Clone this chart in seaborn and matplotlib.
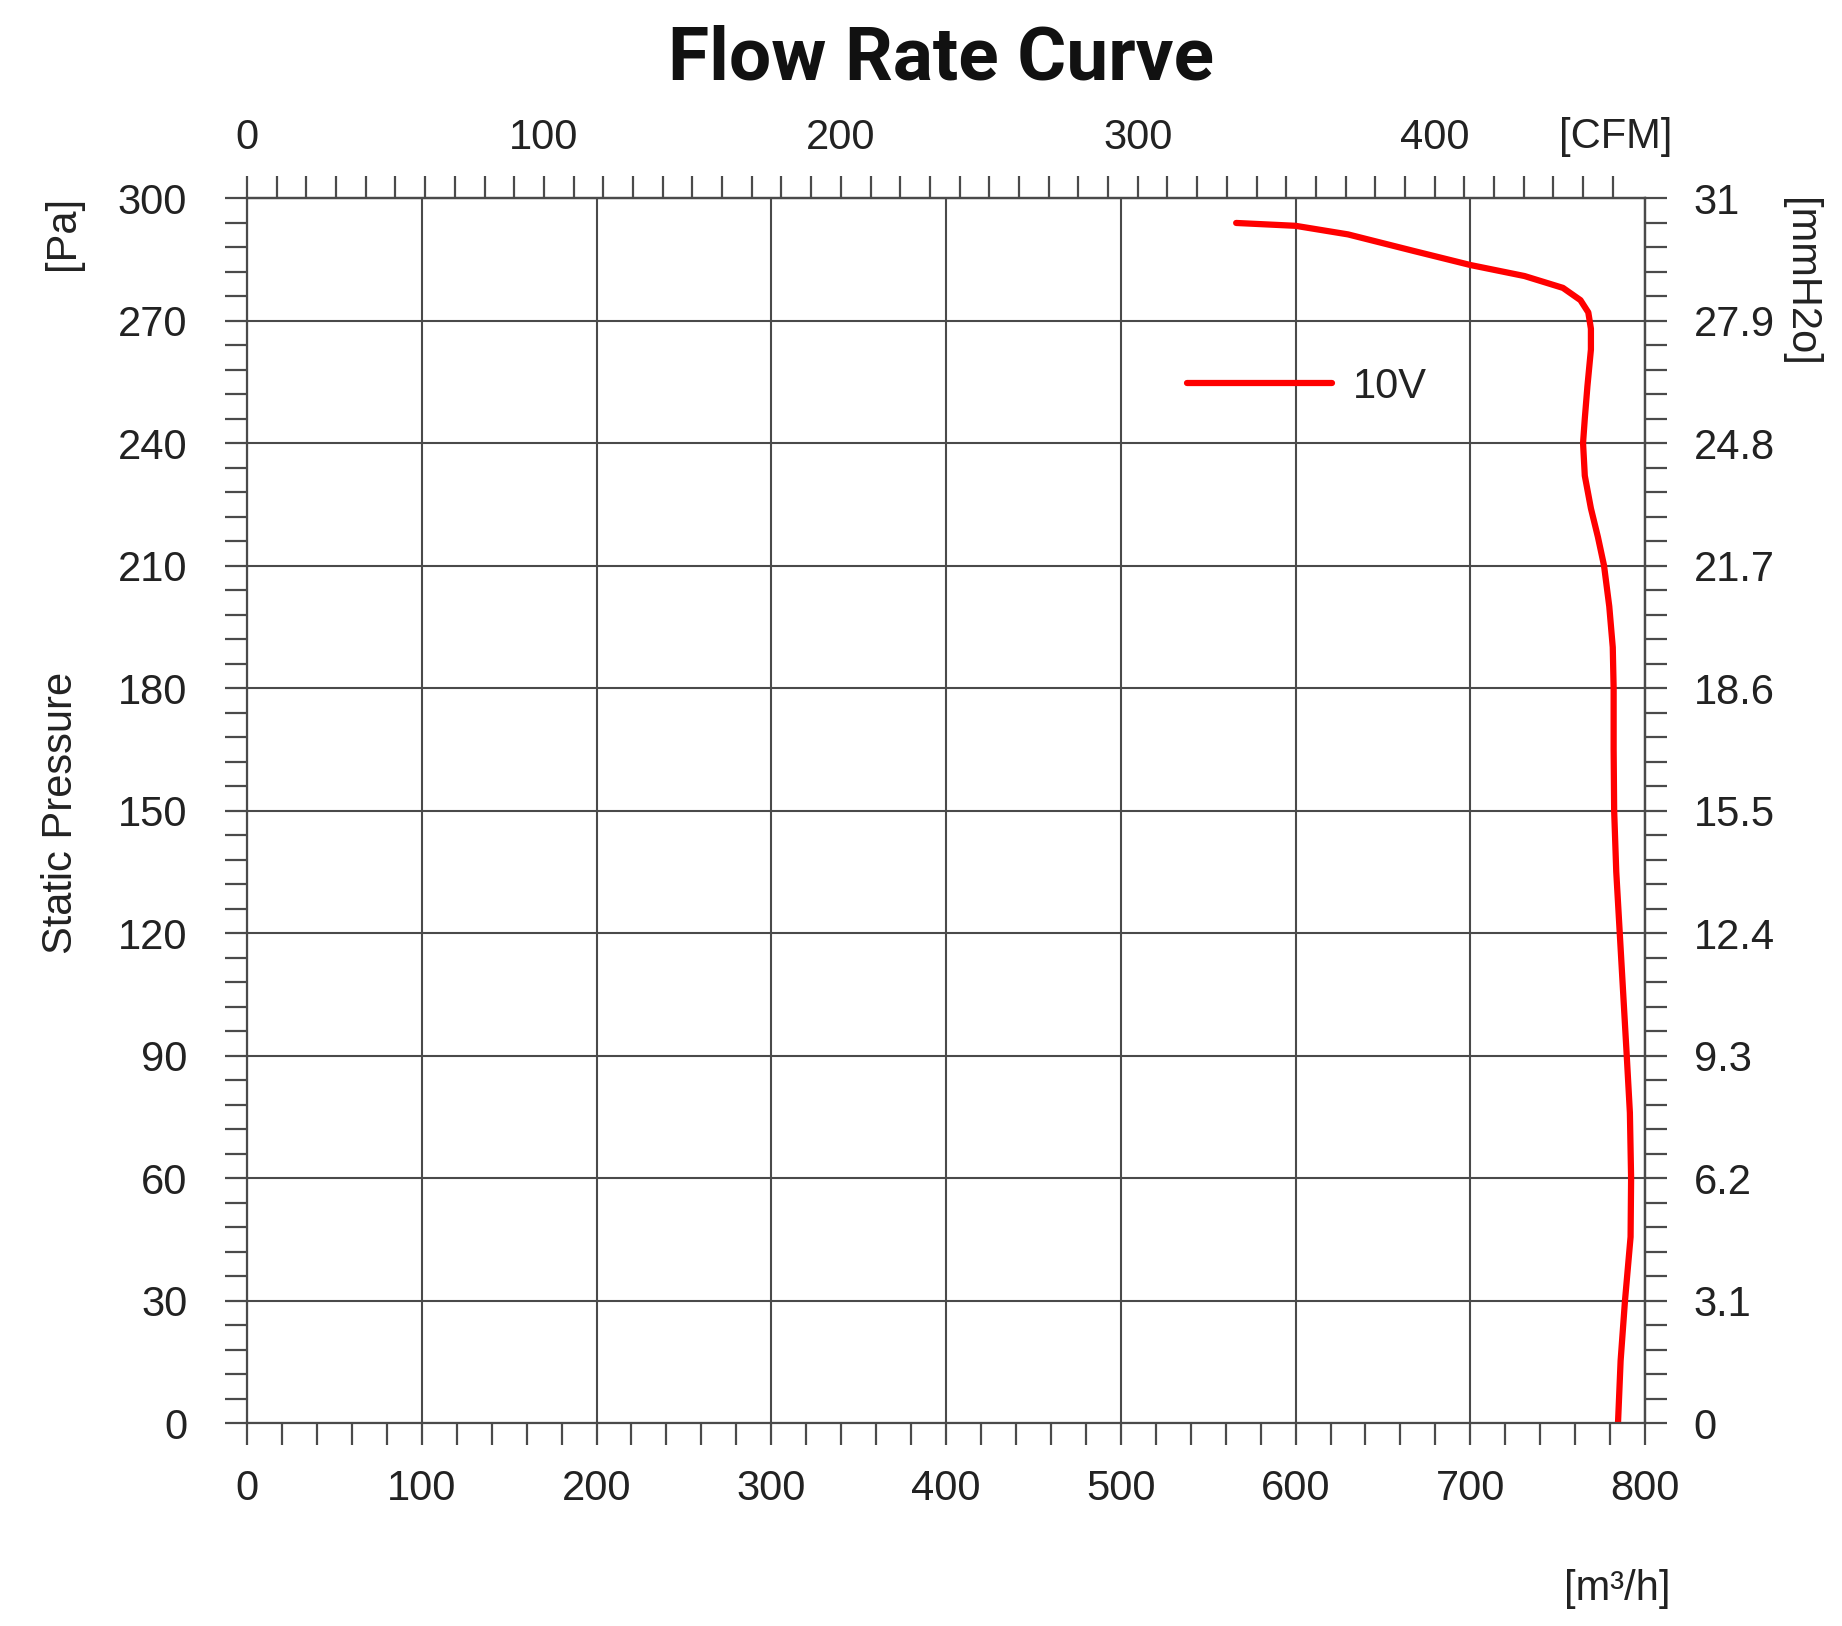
import numpy as np
import pandas as pd
import seaborn as sns
import matplotlib.pyplot as plt
from matplotlib.ticker import FixedLocator, FixedFormatter, MultipleLocator

# curve: flow [m3/h] vs static pressure [Pa]
flow_m3h = [566, 600, 630, 668, 700, 731, 753, 763, 767.5, 769, 769, 767,
            765.5, 764.5, 765.5, 769, 773, 776.5, 779.5, 781.5, 782, 782,
            782.3, 783.5, 785.5, 787.5, 789.5, 791.3, 792, 791.7, 788.5, 786,
            784.5]
pressure_pa = [293.9, 293.2, 291.1, 287, 283.6, 280.9, 278, 275, 272, 268,
               262.9, 253.9, 246, 240, 232, 224, 217, 210, 200, 190, 180, 165,
               150, 135, 120, 105, 90, 76, 60, 45.6, 30, 15.3, 0]
series_label = '10V'

x_ticks = [0, 100, 200, 300, 400, 500, 600, 700, 800]
y_ticks = [0, 30, 60, 90, 120, 150, 180, 210, 240, 270, 300]
cfm_ticks = [0, 100, 200, 300, 400]
mmh2o_labels = ['0', '3.1', '6.2', '9.3', '12.4', '15.5', '18.6', '21.7',
                '24.8', '27.9', '31']

M3H_PER_CFM = 1.699
PA_PER_MM = 300 / 31

sns.set_theme(style='white')
plt.rcParams['font.family'] = ['Liberation Sans', 'DejaVu Sans']

grid_c = '#4a4a4a'
txt_c = '#222222'
fs = 30
tick_len = 16

fig = plt.figure(figsize=(18.42, 16.26), dpi=100)
ax = fig.add_axes([0.1341, 0.1248, 0.7590, 0.7534])

df = pd.DataFrame({'flow': flow_m3h, 'pressure': pressure_pa})
sns.lineplot(data=df, x='flow', y='pressure', sort=False, estimator=None,
             color='#ff0000', lw=4.5, label=series_label, ax=ax,
             solid_capstyle='round', solid_joinstyle='round')

ax.set_xlim(0, 800)
ax.set_ylim(0, 300)
ax.set_xlabel('')
ax.set_ylabel('')
ax.xaxis.set_major_locator(FixedLocator(x_ticks))
ax.xaxis.set_minor_locator(MultipleLocator(20))
ax.yaxis.set_major_locator(FixedLocator(y_ticks))
ax.yaxis.set_minor_locator(MultipleLocator(6))
ax.grid(True, which='major', color=grid_c, lw=1.5)
ax.tick_params(which='both', direction='out', length=tick_len, width=1.6,
               color=grid_c, labelsize=fs, labelcolor=txt_c,
               top=False, right=False, bottom=True, left=True)
ax.tick_params(axis='x', which='major', pad=17)
ax.tick_params(axis='y', which='major', pad=27)
for s in ax.spines.values():
    s.set_color(grid_c)
    s.set_linewidth(1.6)

# top axis in CFM
top = ax.secondary_xaxis('top', functions=(lambda x: x / M3H_PER_CFM,
                                           lambda c: c * M3H_PER_CFM))
top.xaxis.set_major_locator(FixedLocator(cfm_ticks))
top.xaxis.set_minor_locator(FixedLocator(np.arange(0, 461, 10)))
top.tick_params(which='both', direction='out', length=tick_len, width=1.6,
                color=grid_c, labelsize=fs, labelcolor=txt_c)
top.tick_params(which='major', pad=13)
top.spines['top'].set_color(grid_c)
top.spines['top'].set_linewidth(1.6)

# right axis in mmH2o
right = ax.secondary_yaxis('right', functions=(lambda p: p / PA_PER_MM,
                                               lambda m: m * PA_PER_MM))
right.yaxis.set_major_locator(FixedLocator([p / PA_PER_MM for p in y_ticks]))
right.yaxis.set_major_formatter(FixedFormatter(mmh2o_labels))
right.yaxis.set_minor_locator(FixedLocator([p / PA_PER_MM for p in range(0, 301, 6)]))
right.tick_params(which='both', direction='out', length=tick_len, width=1.6,
                  color=grid_c, labelsize=fs, labelcolor=txt_c)
right.tick_params(which='major', pad=19)
right.spines['right'].set_color(grid_c)
right.spines['right'].set_linewidth(1.6)

leg = ax.legend(loc='center left', bbox_to_anchor=(0.672, 0.846), frameon=False,
                fontsize=fs, handlelength=3.5, handletextpad=0.5,
                borderpad=0, borderaxespad=0)
for t in leg.get_texts():
    t.set_color(txt_c)

fig.text(0.511, 0.951, 'Flow Rate Curve', ha='center', va='baseline',
         fontsize=54, fontweight='bold', color='#111111',
         family=['Roboto', 'Liberation Sans'])
fig.text(0.033, 0.5, 'Static Pressure', rotation=90, ha='center', va='center',
         fontsize=fs, color=txt_c)
fig.text(0.034, 0.857, '[Pa]', rotation=90, ha='center', va='center',
         fontsize=fs, color=txt_c)
fig.text(0.977, 0.826, '[mmH2o]', rotation=270, ha='center', va='center',
         fontsize=fs, color=txt_c)
fig.text(0.877, 0.916, '[CFM]', ha='center', va='center',
         fontsize=fs, color=txt_c)
fig.text(0.878, 0.023, '[m³/h]', ha='center', va='center',
         fontsize=fs, color=txt_c)

fig.savefig('out.png', dpi=100)
